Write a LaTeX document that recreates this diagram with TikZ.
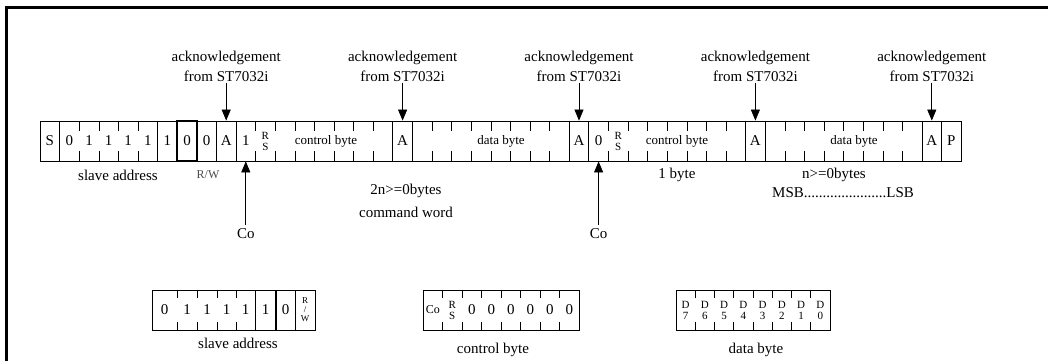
\documentclass[tikz,border=0pt]{standalone}
\usepackage{fontspec}
\setmainfont{Liberation Serif}
\usetikzlibrary{arrows.meta}

\begin{document}
\begin{tikzpicture}[x=1pt,y=-1pt,line width=0.8pt,
  cell/.style={minimum width=19.6pt,minimum height=40pt,inner sep=0pt,font=\fontsize{15}{15}\selectfont},
  pair/.style={cell,align=center,font=\fontsize{11}{11}\selectfont},
  fld/.style={inner sep=0pt,font=\fontsize{13}{13}\selectfont},
  lbl/.style={inner sep=1pt,align=center,font=\fontsize{15}{20}\selectfont},
  arr/.style={line width=0.7pt,-{Triangle[length=11pt,width=9pt]}},
  tick/.style={line width=0.6pt}]
\useasboundingbox (0,0) rectangle (1048,361);
% frame
\draw[line width=3pt] (6.5,361) -- (6.5,8) -- (1048,8);

% main row: 47 cells from x=40
\draw (40,121) rectangle (961.2,161);
\foreach \b in {1,6,9,10,18,19,27,28,36,37,45,46}
  \draw (40+19.6*\b,121) -- (40+19.6*\b,161);
\foreach \s/\e in {2/5,11/17,20/26,29/35,38/44}
  \foreach \b in {\s,...,\e}
  {\draw[tick] (40+19.6*\b,121) -- +(0,10);
   \draw[tick] (40+19.6*\b,161) -- +(0,-10);}
\draw[line width=1.8pt] (40+19.6*7,121) rectangle (40+19.6*8,161);

\foreach \i/\t in {0/S,1/0,2/1,3/1,4/1,5/1,6/1,7/0,8/0,9/A,10/1,18/A,27/A,28/0,36/A,45/A,46/P}
  \node[cell] (c\i) at (40+19.6*\i+9.8,141) {\t};
\node[pair] (c11) at (40+19.6*11+9.8,141) {R\\S};
\node[pair] (c29) at (40+19.6*29+9.8,141) {R\\S};
\node[fld] (cb1) at (326,141) {control byte};
\node[fld] (db1) at (501,141) {data byte};
\node[fld] (cb2) at (677,141) {control byte};
\node[fld] (db2) at (854,141) {data byte};

% acknowledgements
\foreach \i in {9,18,27,36,45}
{\node[lbl] (ack\i) at (40+19.6*\i+9.8,66) {acknowledgement\\from ST7032i};
 \draw[arr] (ack\i) -- (c\i);}

% Co bits
\node[lbl,inner sep=4pt] (co1) at (40+19.6*10+9.8,234) {Co};
\node[lbl,inner sep=4pt] (co2) at (40+19.6*28+9.8,234) {Co};
\draw[arr] (co1) -- (c10);
\draw[arr] (co2) -- (c28);

% labels under the row
\node[lbl] (sa) at (118,175) {slave address};
\node[lbl,font=\fontsize{12}{12}\selectfont,text=black!70] (rw) at (208,175) {R/W};
\node[lbl,font=\fontsize{15}{23}\selectfont] (cw) at (406,201) {2n>=0bytes\\command word};
\node[lbl] (one) at (677,175) {1 byte};
\node[lbl] (nb) at (834,175) {n>=0bytes};
\node[lbl] (msb) at (843,193) {MSB......................LSB};

% slave address byte
\draw (152,290) rectangle (315,330);
\foreach \x in {177,197,217,236}
  {\draw[tick] (\x,290) -- +(0,8); \draw[tick] (\x,330) -- +(0,-8);}
\foreach \x in {255,295}
  \draw (\x,290) -- (\x,330);
\draw[line width=1.6pt] (276,290) -- (276,330);
\foreach \x/\t [count=\k] in {164.5/0,187/1,207/1,226.5/1,245.5/1,265.5/1,285.5/0}
  \node[cell] (s\k) at (\x,310) {\t};
\node[pair,font=\fontsize{9}{9}\selectfont] (s8) at (305,310) {R\\/\\W};
\node[lbl] (sal) at (238,343) {slave address};

% control byte
\draw (423,290) rectangle (579,330);
\foreach \k in {1,...,7}
  {\draw[tick] (423+19.5*\k,290) -- +(0,8); \draw[tick] (423+19.5*\k,330) -- +(0,-8);}
\node[cell,font=\fontsize{12}{12}\selectfont] (k1) at (432.75,310) {Co};
\node[pair] (k2) at (452.25,310) {R\\S};
\foreach \k in {3,...,8}
  \node[cell] (k\k) at (423+19.5*\k-9.75,310) {0};
\node[lbl] (cbl) at (493,350) {control byte};

% data byte
\draw (676,290) rectangle (830,330);
\foreach \k in {1,...,7}
  {\draw[tick] (676+19.25*\k,290) -- +(0,8); \draw[tick] (676+19.25*\k,330) -- +(0,-8);}
\foreach \k [evaluate=\k as \n using int(8-\k)] in {1,...,8}
  \node[pair] (d\k) at (676+19.25*\k-9.625,310) {D\\\n};
\node[lbl] (dbl) at (756,350) {data byte};
\end{tikzpicture}
\end{document}
